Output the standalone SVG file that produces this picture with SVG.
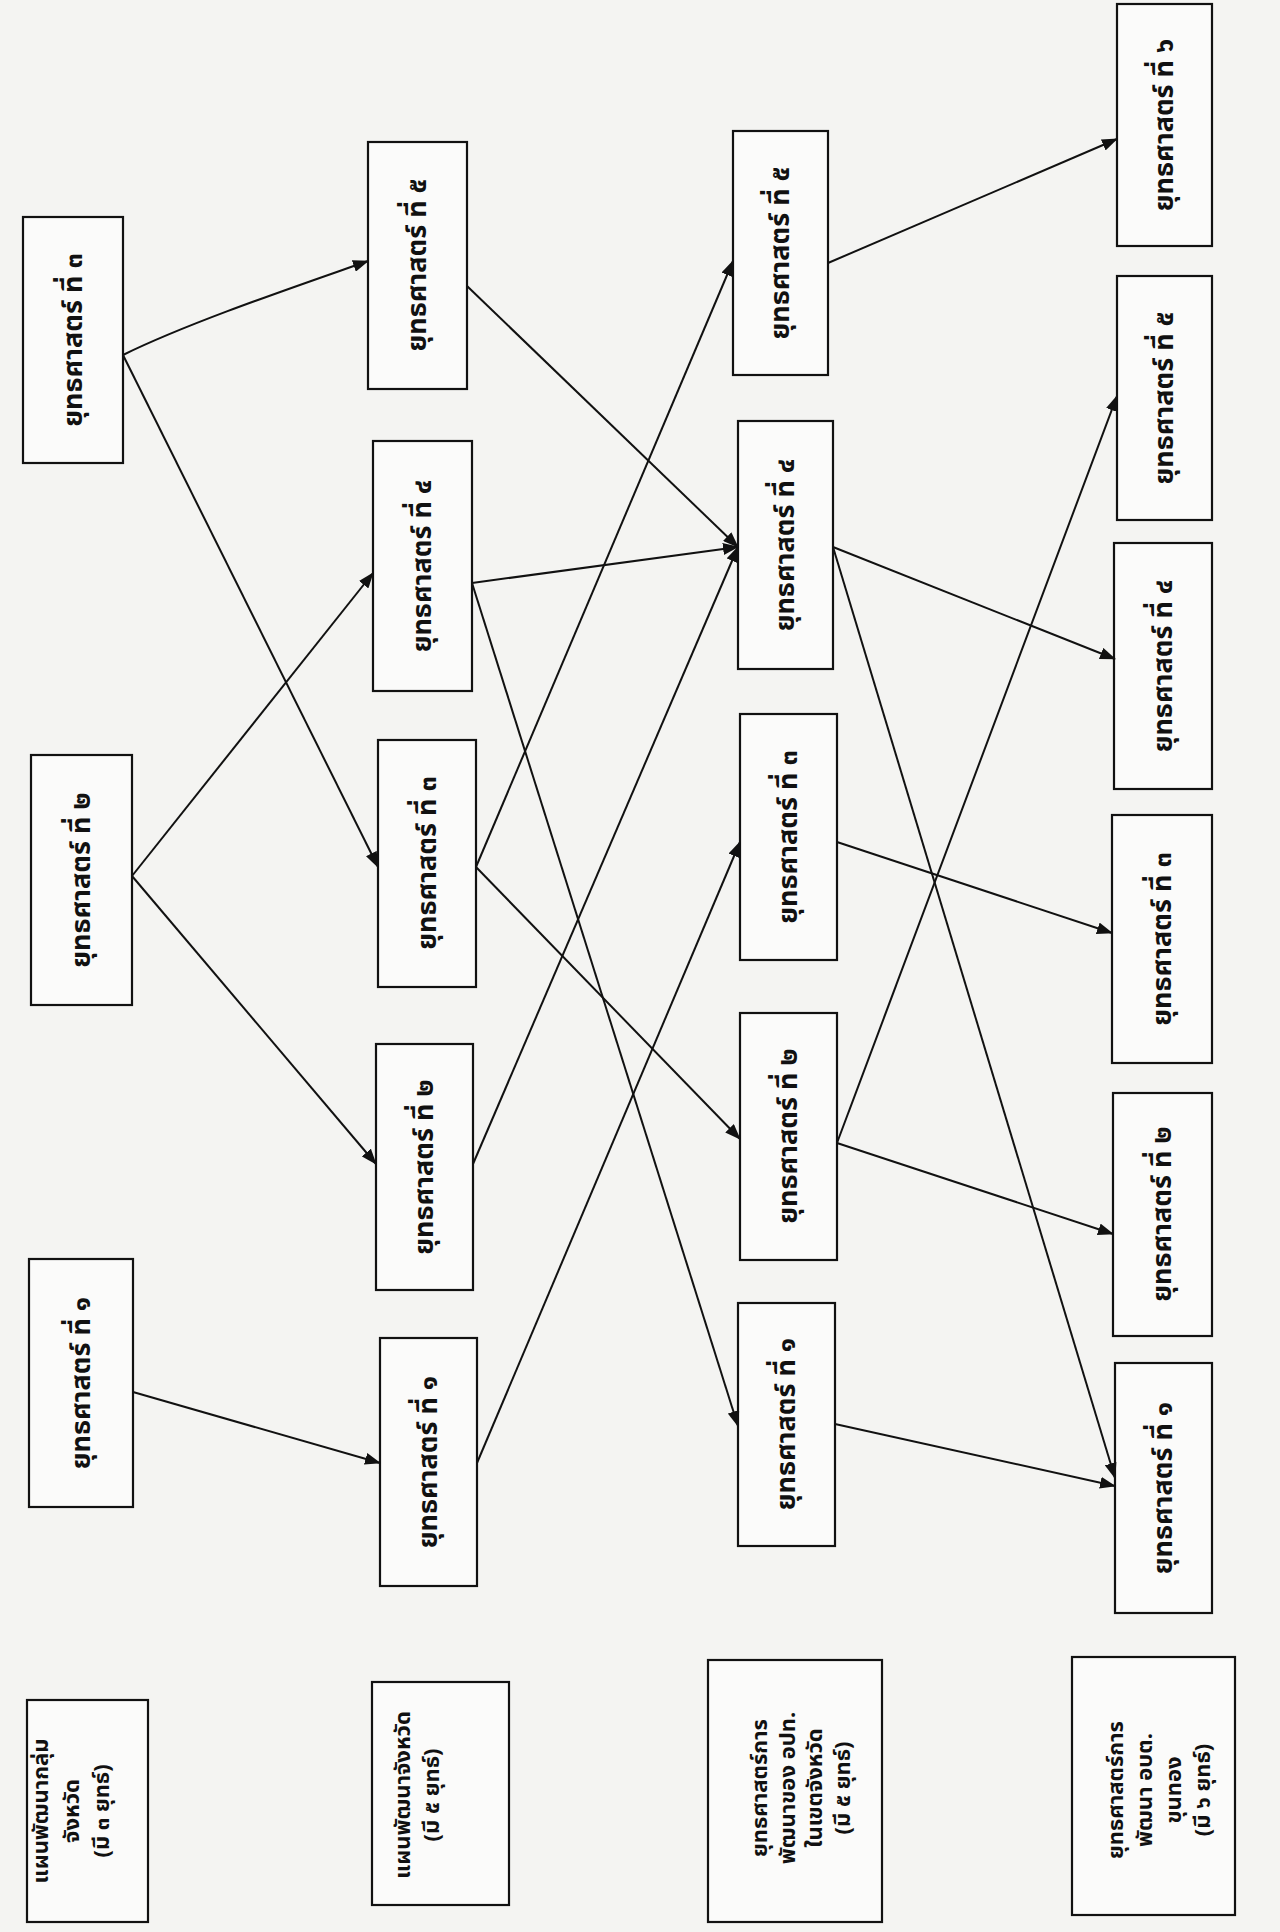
<svg xmlns="http://www.w3.org/2000/svg" width="1280" height="1932" viewBox="0 0 1280 1932">
<defs>
<style>
.bg{fill:#f4f4f2}
.box{fill:#fbfbfa;stroke:#111;stroke-width:2.2}
.t{font-family:"Noto Sans Thai","Noto Sans","DejaVu Sans",sans-serif;font-weight:bold;font-size:27px;fill:#111;text-anchor:middle;dominant-baseline:central}
.lbl{font-family:"Noto Sans Thai","Noto Sans","DejaVu Sans",sans-serif;font-weight:bold;font-size:22px;fill:#111;text-anchor:middle;dominant-baseline:central}
.c{fill:none;stroke:#111;stroke-width:2}
</style>
<marker id="ah" markerUnits="userSpaceOnUse" markerWidth="16" markerHeight="12" refX="15" refY="6" orient="auto">
<path d="M0,0 L16,6 L0,12 z" fill="#111"/>
</marker>
</defs>
<rect class="bg" x="0" y="0" width="1280" height="1932"/>

<g id="label1"><rect class="box" x="27" y="1700" width="121" height="222"/>
<g transform="translate(0,1811) rotate(-90)"><text class="lbl" x="0" y="41">แผนพัฒนากลุ่ม</text><text class="lbl" x="0" y="72">จังหวัด</text><text class="lbl" x="0" y="102">(มี ๓ ยุทธ์)</text></g></g>
<g id="label2"><rect class="box" x="372" y="1682" width="137" height="223"/>
<g transform="translate(0,1795) rotate(-90)"><text class="lbl" x="0" y="403">แผนพัฒนาจังหวัด</text><text class="lbl" x="0" y="432">(มี ๕ ยุทธ์)</text></g></g>
<g id="label3"><rect class="box" x="708" y="1660" width="174" height="262"/>
<g transform="translate(0,1788) rotate(-90)"><text class="lbl" x="0" y="760">ยุทธศาสตร์การ</text><text class="lbl" x="0" y="788">พัฒนาของ อปท.</text><text class="lbl" x="0" y="815">ในเขตจังหวัด</text><text class="lbl" x="0" y="843">(มี ๕ ยุทธ์)</text></g></g>
<g id="label4"><rect class="box" x="1072" y="1657" width="163" height="258"/>
<g transform="translate(0,1790) rotate(-90)"><text class="lbl" x="0" y="1116">ยุทธศาสตร์การ</text><text class="lbl" x="0" y="1145">พัฒนา อบต.</text><text class="lbl" x="0" y="1174">ขุนทอง</text><text class="lbl" x="0" y="1203">(มี ๖ ยุทธ์)</text></g></g>

<g id="n1_3"><rect class="box" x="23" y="217" width="100" height="246"/><text class="t" transform="translate(73,340) rotate(-90)">ยุทธศาสตร์ ที่ ๓</text></g>
<g id="n1_2"><rect class="box" x="31" y="755" width="101" height="250"/><text class="t" transform="translate(81,880) rotate(-90)">ยุทธศาสตร์ ที่ ๒</text></g>
<g id="n1_1"><rect class="box" x="29" y="1259" width="104" height="248"/><text class="t" transform="translate(81,1383) rotate(-90)">ยุทธศาสตร์ ที่ ๑</text></g>

<g id="n2_5"><rect class="box" x="368" y="142" width="99" height="247"/><text class="t" transform="translate(417,265) rotate(-90)">ยุทธศาสตร์ ที่ ๕</text></g>
<g id="n2_4"><rect class="box" x="373" y="441" width="99" height="250"/><text class="t" transform="translate(422,566) rotate(-90)">ยุทธศาสตร์ ที่ ๔</text></g>
<g id="n2_3"><rect class="box" x="378" y="740" width="98" height="247"/><text class="t" transform="translate(427,863) rotate(-90)">ยุทธศาสตร์ ที่ ๓</text></g>
<g id="n2_2"><rect class="box" x="376" y="1044" width="97" height="246"/><text class="t" transform="translate(424,1167) rotate(-90)">ยุทธศาสตร์ ที่ ๒</text></g>
<g id="n2_1"><rect class="box" x="380" y="1338" width="97" height="248"/><text class="t" transform="translate(428,1462) rotate(-90)">ยุทธศาสตร์ ที่ ๑</text></g>

<g id="n3_5"><rect class="box" x="733" y="131" width="95" height="244"/><text class="t" transform="translate(780,253) rotate(-90)">ยุทธศาสตร์ ที่ ๕</text></g>
<g id="n3_4"><rect class="box" x="738" y="421" width="95" height="248"/><text class="t" transform="translate(785,545) rotate(-90)">ยุทธศาสตร์ ที่ ๔</text></g>
<g id="n3_3"><rect class="box" x="740" y="714" width="97" height="246"/><text class="t" transform="translate(788,837) rotate(-90)">ยุทธศาสตร์ ที่ ๓</text></g>
<g id="n3_2"><rect class="box" x="740" y="1013" width="97" height="247"/><text class="t" transform="translate(788,1136) rotate(-90)">ยุทธศาสตร์ ที่ ๒</text></g>
<g id="n3_1"><rect class="box" x="738" y="1303" width="97" height="243"/><text class="t" transform="translate(786,1424) rotate(-90)">ยุทธศาสตร์ ที่ ๑</text></g>

<g id="n4_6"><rect class="box" x="1117" y="4" width="95" height="242"/><text class="t" transform="translate(1164,125) rotate(-90)">ยุทธศาสตร์ ที่ ๖</text></g>
<g id="n4_5"><rect class="box" x="1117" y="276" width="95" height="244"/><text class="t" transform="translate(1164,398) rotate(-90)">ยุทธศาสตร์ ที่ ๕</text></g>
<g id="n4_4"><rect class="box" x="1114" y="543" width="98" height="246"/><text class="t" transform="translate(1163,666) rotate(-90)">ยุทธศาสตร์ ที่ ๔</text></g>
<g id="n4_3"><rect class="box" x="1112" y="815" width="100" height="248"/><text class="t" transform="translate(1162,939) rotate(-90)">ยุทธศาสตร์ ที่ ๓</text></g>
<g id="n4_2"><rect class="box" x="1113" y="1093" width="99" height="243"/><text class="t" transform="translate(1162,1214) rotate(-90)">ยุทธศาสตร์ ที่ ๒</text></g>
<g id="n4_1"><rect class="box" x="1115" y="1363" width="97" height="250"/><text class="t" transform="translate(1163,1488) rotate(-90)">ยุทธศาสตร์ ที่ ๑</text></g>

<g id="connectors">
<path class="c" marker-end="url(#ah)" d="M133,1392 L380,1463"/>
<path class="c" marker-end="url(#ah)" d="M132,876 L373,573"/>
<path class="c" marker-end="url(#ah)" d="M132,876 L376,1164"/>
<path class="c" marker-end="url(#ah)" d="M123,355 C190,322 300,285 368,261"/>
<path class="c" marker-end="url(#ah)" d="M123,355 L378,867"/>
<path class="c" marker-end="url(#ah)" d="M477,1463 L740,842"/>
<path class="c" marker-end="url(#ah)" d="M473,1164 L738,547"/>
<path class="c" marker-end="url(#ah)" d="M476,867 L733,261"/>
<path class="c" marker-end="url(#ah)" d="M476,867 L740,1139"/>
<path class="c" marker-end="url(#ah)" d="M472,583 L738,547"/>
<path class="c" marker-end="url(#ah)" d="M472,583 L738,1426"/>
<path class="c" marker-end="url(#ah)" d="M467,286 L738,547"/>
<path class="c" marker-end="url(#ah)" d="M835,1424 L1115,1486"/>
<path class="c" marker-end="url(#ah)" d="M837,1143 L1113,1234"/>
<path class="c" marker-end="url(#ah)" d="M837,1143 L1117,396"/>
<path class="c" marker-end="url(#ah)" d="M837,842 L1112,933"/>
<path class="c" marker-end="url(#ah)" d="M833,547 L1115,659"/>
<path class="c" marker-end="url(#ah)" d="M833,547 L1115,1478"/>
<path class="c" marker-end="url(#ah)" d="M828,263 L1117,139"/>
</g>
</svg>
